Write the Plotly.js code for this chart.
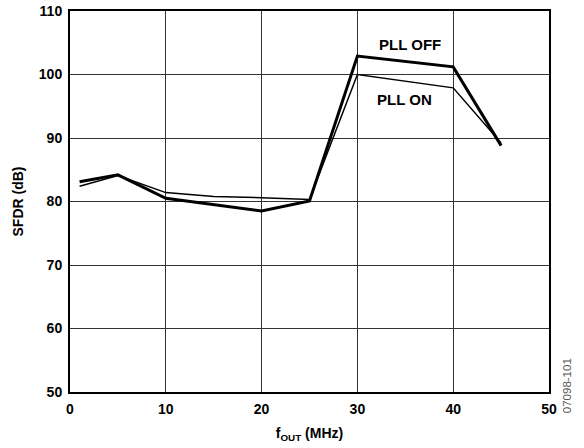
<!DOCTYPE html>
<html>
<head>
<meta charset="utf-8">
<script src="https://cdn.plot.ly/plotly-3.0.1.min.js"></script>
<style>html,body{margin:0;padding:0;background:#fff;}#chart{width:584px;height:448px;}</style>
</head>
<body>
<div id="chart"></div>
<script>
const fOut = [1, 5, 10, 15, 20, 25, 30, 40, 45];
const pllOff = [83.1, 84.2, 80.5, 79.5, 78.5, 80.1, 102.9, 101.2, 88.8];
const pllOn = [82.4, 84.1, 81.4, 80.8, 80.6, 80.3, 100.0, 97.9, 89.2];
const xTicks = [0, 10, 20, 30, 40, 50];
const yTicks = [50, 60, 70, 80, 90, 100, 110];

const fam = 'Liberation Sans, Arial, sans-serif';
const boldFont = (s) => ({family: fam, size: s, color: '#000', weight: 'bold'});

const traces = [
  {x: fOut, y: pllOn, mode: 'lines', line: {color: '#000', width: 1.5}, name: 'PLL ON'},
  {x: fOut, y: pllOff, mode: 'lines', line: {color: '#000', width: 3}, name: 'PLL OFF'}
];

const layout = {
  width: 584, height: 448,
  margin: {l: 70, r: 35, t: 11, b: 56},
  paper_bgcolor: '#fff', plot_bgcolor: '#fff',
  showlegend: false,
  font: {family: fam, color: '#000'},
  xaxis: {
    range: [0, 50], tickvals: xTicks, ticktext: xTicks.map(String),
    showgrid: true, gridcolor: '#333', gridwidth: 1,
    showline: true, linecolor: '#000', linewidth: 2, mirror: true,
    zeroline: false, ticks: '', ticklabelstandoff: 3,
    tickfont: boldFont(14),
    title: {text: 'f<sub>OUT</sub> (MHz)', font: boldFont(14), standoff: 12}
  },
  yaxis: {
    range: [50, 110], tickvals: yTicks, ticktext: yTicks.map(String),
    showgrid: true, gridcolor: '#333', gridwidth: 1,
    showline: true, linecolor: '#000', linewidth: 2, mirror: true,
    zeroline: false, ticks: '', ticklabelstandoff: 3,
    tickfont: boldFont(14),
    title: {text: 'SFDR (dB)', font: boldFont(14), standoff: 12}
  },
  annotations: [
    {x: 35.5, y: 104.7, xref: 'x', yref: 'y', text: 'PLL OFF', showarrow: false, font: boldFont(15)},
    {x: 34.9, y: 96.0, xref: 'x', yref: 'y', text: 'PLL ON', showarrow: false, font: boldFont(15)},
    {x: 1.056, y: -0.06, xref: 'paper', yref: 'paper', text: '07098-101', showarrow: false,
     textangle: -90, font: {family: fam, size: 11.5, color: '#555'}}
  ]
};

Plotly.newPlot('chart', traces, layout, {displayModeBar: false, staticPlot: true});
</script>
</body>
</html>
